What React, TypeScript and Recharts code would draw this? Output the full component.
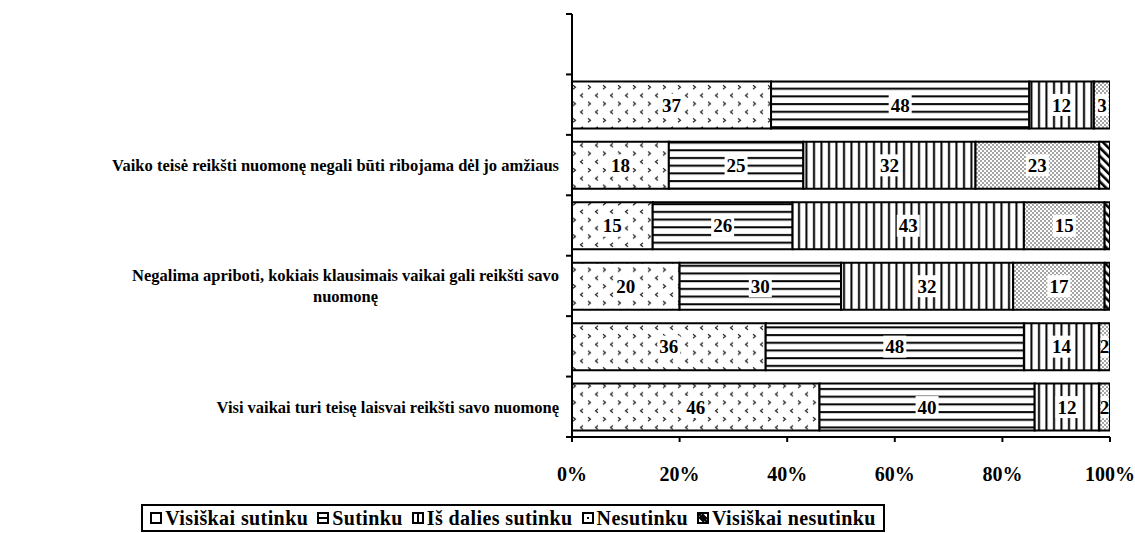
import React from 'react';
import { BarChart, Bar, XAxis, YAxis, LabelList } from 'recharts';

const categoryLabels: string[] = [
  '',
  '',
  'Vaiko teisė reikšti nuomonę negali būti ribojama dėl jo amžiaus',
  '',
  'Negalima apriboti, kokiais klausimais vaikai gali reikšti savo nuomonę',
  '',
  'Visi vaikai turi teisę laisvai reikšti savo nuomonę',
];

const visiskaiSutinku = [null, 37, 18, 15, 20, 36, 46];
const sutinku = [null, 48, 25, 26, 30, 48, 40];
const isDaliesSutinku = [null, 12, 32, 43, 32, 14, 12];
const nesutinku = [null, 3, 23, 15, 17, 2, 2];
const visiskaiNesutinku = [null, 0, 2, 1, 1, 0, 0];

const seriesNames = ['Visiškai sutinku', 'Sutinku', 'Iš dalies sutinku', 'Nesutinku', 'Visiškai nesutinku'];
const seriesKeys = ['s0', 's1', 's2', 's3', 's4'];
const patternIds = ['pChev', 'pHor', 'pVer', 'pDot', 'pDiag'];
const xTicks = [0, 20, 40, 60, 80, 100];

const data = categoryLabels.map((label, i) => ({
  id: 'c' + i,
  label,
  s0: visiskaiSutinku[i],
  s1: sutinku[i],
  s2: isDaliesSutinku[i],
  s3: nesutinku[i],
  s4: visiskaiNesutinku[i],
}));

const FONT = '"Liberation Serif", "Times New Roman", serif';
const CHART_W = 1135;
const CHART_H = 533;
const MARGIN = { top: 14, right: 25, left: 0, bottom: 46 };
const X_AXIS_H = 50;
const Y_AXIS_W = 572;
const PLOT_H = CHART_H - MARGIN.top - MARGIN.bottom - X_AXIS_H;
const BAND = PLOT_H / categoryLabels.length;
const CAT_FONT_SIZE = 16.5;
const WRAP_W = 462;
const LABEL_FONT_SIZE = 19;

let ctx: CanvasRenderingContext2D | null = null;
function measure(text: string, font: string): number {
  if (!ctx) {
    const c = document.createElement('canvas');
    ctx = c.getContext('2d');
  }
  if (!ctx) return text.length * 7;
  ctx.font = font;
  return ctx.measureText(text).width;
}

function wrap(text: string, maxW: number, font: string): string[] {
  const words = text.split(' ');
  const lines: string[] = [];
  let cur = '';
  for (const w of words) {
    const t = cur ? cur + ' ' + w : w;
    if (measure(t, font) > maxW && cur) {
      lines.push(cur);
      cur = w;
    } else cur = t;
  }
  if (cur) lines.push(cur);
  return lines;
}

const YTick = (props: any) => {
  const { x, y, payload, index } = props;
  const item = data.find((d) => d.id === payload.value);
  const label = item ? item.label : '';
  const font = `bold ${CAT_FONT_SIZE}px "Liberation Serif"`;
  const lines = label ? wrap(label, WRAP_W, font) : [];
  const right = x - 13;
  const maxW = lines.length ? Math.max(...lines.map((l) => measure(l, font))) : 0;
  const cx = right - maxW / 2;
  const lh = 21;
  const y0 = y - ((lines.length - 1) * lh) / 2;
  const half = BAND / 2;
  const isLast = index === categoryLabels.length - 1;
  return (
    <g>
      <line x1={x - 6} x2={x} y1={y - half} y2={y - half} stroke="#000" strokeWidth={2} />
      {isLast && <line x1={x - 6} x2={x} y1={y + half} y2={y + half} stroke="#000" strokeWidth={2} />}
      {lines.length > 0 && (
        <text fontFamily={FONT} fontWeight="bold" fontSize={CAT_FONT_SIZE} fill="#000">
          {lines.map((l, i) => (
            <tspan key={i} x={cx} y={y0 + i * lh} dy="0.35em" textAnchor="middle">
              {l}
            </tspan>
          ))}
        </text>
      )}
    </g>
  );
};

const makeLabel = (seriesIndex: number) => (props: any) => {
  const { x, y, width, height, value } = props;
  if (value == null || value < 2 || seriesIndex === 4) return null;
  const cx = x + width / 2;
  const cy = y + height / 2;
  const txt = String(value);
  const tw = measure(txt, `bold ${LABEL_FONT_SIZE}px "Liberation Serif"`);
  const bw = Math.min(tw + 4, width - 3);
  return (
    <g>
      <rect x={cx - bw / 2} y={cy - 11} width={bw} height={22} fill="#fff" />
      <text x={cx} y={cy} dy="0.35em" textAnchor="middle" fontFamily={FONT} fontWeight="bold" fontSize={LABEL_FONT_SIZE} fill="#000">
        {txt}
      </text>
    </g>
  );
};

const Patterns = () => (
  <svg width={0} height={0} style={{ position: 'absolute' }}>
    <defs>
      <pattern id="pChev" patternUnits="userSpaceOnUse" width={15} height={16.6}>
        <rect width={15} height={16.6} fill="#fff" />
        <path d="M3,2.2 L5.5,4.2 L3,6.2" stroke="#222" strokeWidth={1.2} fill="none" />
        <path d="M13,10.5 L10.5,12.5 L13,14.5" stroke="#222" strokeWidth={1.2} fill="none" />
      </pattern>
      <pattern id="pHor" patternUnits="userSpaceOnUse" width={8} height={7.7}>
        <rect width={8} height={7.7} fill="#fff" />
        <rect x={0} y={3} width={8} height={2} fill="#000" />
      </pattern>
      <pattern id="pVer" patternUnits="userSpaceOnUse" width={7.5} height={8}>
        <rect width={7.5} height={8} fill="#fff" />
        <rect x={3} y={0} width={2} height={8} fill="#000" />
      </pattern>
      <pattern id="pDot" patternUnits="userSpaceOnUse" width={4} height={4}>
        <rect width={4} height={4} fill="#fff" />
        <circle cx={1} cy={1} r={0.8} fill="#333" />
        <circle cx={3} cy={3} r={0.8} fill="#333" />
      </pattern>
      <pattern id="pDiag" patternUnits="userSpaceOnUse" width={6} height={6} patternTransform="rotate(-45)">
        <rect width={6} height={6} fill="#fff" />
        <rect x={0} y={0} width={2.6} height={6} fill="#000" />
      </pattern>
    </defs>
  </svg>
);

const LegendIcon = ({ i }: { i: number }) => (
  <svg width={12} height={12} style={{ marginRight: 3, display: 'block' }}>
    <rect x={1} y={1} width={10} height={10} fill="#fff" stroke="#000" strokeWidth={2} />
    {i === 1 && <line x1={1} x2={11} y1={6} y2={6} stroke="#000" strokeWidth={2} />}
    {i === 2 && <line x1={6} x2={6} y1={1} y2={11} stroke="#000" strokeWidth={2} />}
    {i === 3 && <rect x={5} y={5} width={2} height={2} fill="#000" />}
    {i === 4 && <path d="M2,2 L10,10 M2,5 L7,10 M5,2 L10,7" stroke="#000" strokeWidth={2} />}
  </svg>
);

const Legend = () => (
  <div
    style={{
      position: 'absolute',
      left: 141,
      top: 504,
      width: 744,
      height: 28,
      border: '2px solid #000',
      boxSizing: 'border-box',
      display: 'flex',
      alignItems: 'center',
      justifyContent: 'center',
      fontFamily: FONT,
      fontWeight: 'bold',
      fontSize: 20,
      letterSpacing: 0.4,
      color: '#000',
      whiteSpace: 'nowrap',
    }}
  >
    {seriesNames.map((n, i) => (
      <div key={n} style={{ display: 'flex', alignItems: 'center', marginRight: i < 4 ? 9 : 0 }}>
        <LegendIcon i={i} />
        <span>{n}</span>
      </div>
    ))}
  </div>
);

export default function App() {
  return (
    <div style={{ position: 'relative', width: CHART_W, height: CHART_H, background: '#fff' }}>
      <style>{`body{margin:0;background:#fff}`}</style>
      <Patterns />
      <BarChart width={CHART_W} height={CHART_H} data={data} layout="vertical" margin={MARGIN} barSize={47}>
        <XAxis
          type="number"
          domain={[0, 100]}
          ticks={xTicks}
          tickFormatter={(v: number) => v + '%'}
          height={X_AXIS_H}
          stroke="#000"
          axisLine={{ stroke: '#000', strokeWidth: 2 }}
          tickLine={{ stroke: '#000', strokeWidth: 2 }}
          tickSize={5}
          tickMargin={25}
          tick={{ fontFamily: FONT, fontWeight: 'bold', fontSize: 20, fill: '#000' }}
          interval={0}
          allowDataOverflow
        />
        <YAxis
          type="category"
          dataKey="id"
          width={Y_AXIS_W}
          axisLine={{ stroke: '#000', strokeWidth: 2 }}
          tickLine={false}
          tickSize={0}
          tickMargin={0}
          tick={<YTick />}
          interval={0}
        />
        {seriesKeys.map((k, i) => (
          <Bar
            key={k}
            dataKey={k}
            name={seriesNames[i]}
            stackId="a"
            fill={`url(#${patternIds[i]})`}
            stroke="#000"
            strokeWidth={2}
            isAnimationActive={false}
          >
            <LabelList dataKey={k} content={makeLabel(i)} />
          </Bar>
        ))}
      </BarChart>
      <Legend />
    </div>
  );
}
